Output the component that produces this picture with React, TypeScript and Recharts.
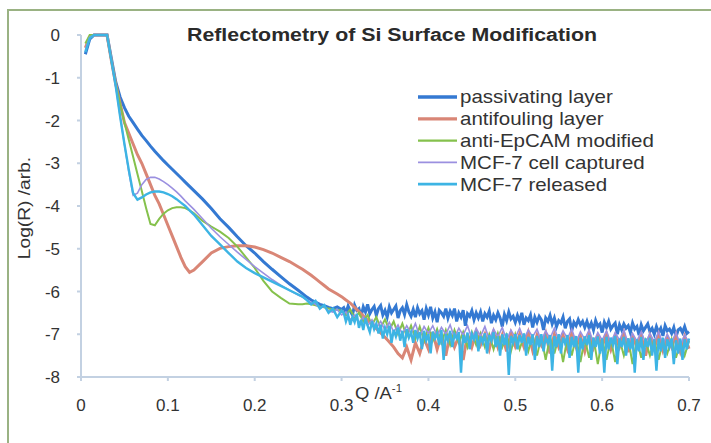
import { LineChart, Line, XAxis, YAxis, Legend } from "recharts";

// Q grids: fine steps through the critical edge and fringes, then the noisy tail
const Q_LOW = [
  0.005, 0.01, 0.015, 0.02, 0.025, 0.03, 0.035, 0.04, 0.045, 0.05,
  0.055, 0.06, 0.065, 0.07, 0.075, 0.08, 0.085, 0.09, 0.095, 0.1,
  0.105, 0.11, 0.115, 0.12, 0.125, 0.13, 0.14, 0.15, 0.16, 0.17,
  0.18, 0.19, 0.2, 0.21, 0.22, 0.23, 0.24, 0.25,
];
const Q_MID = [0.255, 0.26, 0.265, 0.27, 0.275, 0.28, 0.285, 0.29, 0.295, 0.3];
const Q_TAIL = [
  0.305, 0.31, 0.315, 0.32, 0.325, 0.33, 0.335, 0.34, 0.345, 0.35,
  0.355, 0.36, 0.365, 0.37, 0.375, 0.38, 0.385, 0.39, 0.395, 0.4,
  0.405, 0.41, 0.415, 0.42, 0.425, 0.43, 0.435, 0.44, 0.445, 0.45,
  0.455, 0.46, 0.465, 0.47, 0.475, 0.48, 0.485, 0.49, 0.495, 0.5,
  0.505, 0.51, 0.515, 0.52, 0.525, 0.53, 0.535, 0.54, 0.545, 0.55,
  0.555, 0.56, 0.565, 0.57, 0.575, 0.58, 0.585, 0.59, 0.595, 0.6,
  0.605, 0.61, 0.615, 0.62, 0.625, 0.63, 0.635, 0.64, 0.645, 0.65,
  0.655, 0.66, 0.665, 0.67, 0.675, 0.68, 0.685, 0.69, 0.695, 0.7,
];
// denser sampling for the two runs that dominate the noisy band
const Q_TAIL_FINE = [
  0.3025, 0.305, 0.3075, 0.31, 0.3125, 0.315, 0.3175, 0.32, 0.3225, 0.325, 0.3275, 0.33, 0.3325, 0.335, 0.3375, 0.34,
  0.3425, 0.345, 0.3475, 0.35, 0.3525, 0.355, 0.3575, 0.36, 0.3625, 0.365, 0.3675, 0.37, 0.3725, 0.375, 0.3775, 0.38,
  0.3825, 0.385, 0.3875, 0.39, 0.3925, 0.395, 0.3975, 0.4, 0.4025, 0.405, 0.4075, 0.41, 0.4125, 0.415, 0.4175, 0.42,
  0.4225, 0.425, 0.4275, 0.43, 0.4325, 0.435, 0.4375, 0.44, 0.4425, 0.445, 0.4475, 0.45, 0.4525, 0.455, 0.4575, 0.46,
  0.4625, 0.465, 0.4675, 0.47, 0.4725, 0.475, 0.4775, 0.48, 0.4825, 0.485, 0.4875, 0.49, 0.4925, 0.495, 0.4975, 0.5,
  0.5025, 0.505, 0.5075, 0.51, 0.5125, 0.515, 0.5175, 0.52, 0.5225, 0.525, 0.5275, 0.53, 0.5325, 0.535, 0.5375, 0.54,
  0.5425, 0.545, 0.5475, 0.55, 0.5525, 0.555, 0.5575, 0.56, 0.5625, 0.565, 0.5675, 0.57, 0.5725, 0.575, 0.5775, 0.58,
  0.5825, 0.585, 0.5875, 0.59, 0.5925, 0.595, 0.5975, 0.6, 0.6025, 0.605, 0.6075, 0.61, 0.6125, 0.615, 0.6175, 0.62,
  0.6225, 0.625, 0.6275, 0.63, 0.6325, 0.635, 0.6375, 0.64, 0.6425, 0.645, 0.6475, 0.65, 0.6525, 0.655, 0.6575, 0.66,
  0.6625, 0.665, 0.6675, 0.67, 0.6725, 0.675, 0.6775, 0.68, 0.6825, 0.685, 0.6875, 0.69, 0.6925, 0.695, 0.6975, 0.7,
];

// log(R) values
const PASSIVATING_LOW = [
  -0.45, -0.1, 0, 0, 0, 0, -0.55, -1.1, -1.45, -1.7,
  -1.9, -2.05, -2.2, -2.35, -2.47, -2.6, -2.72, -2.83, -2.94, -3.04,
  -3.14, -3.24, -3.34, -3.44, -3.54, -3.64, -3.84, -4.06, -4.3, -4.5,
  -4.72, -4.93, -5.1, -5.3, -5.48, -5.65, -5.82, -5.97,
];
const PASSIVATING_MID = [-6.05, -6.13, -6.2, -6.25, -6.3, -6.33, -6.37, -6.4, -6.36, -6.42];
const PASSIVATING_TAIL = [
  -6.38, -6.5, -6.34, -6.46, -6.55, -6.32, -6.44, -6.4, -6.58, -6.36, -6.48, -6.3, -6.52, -6.42, -6.35, -6.56,
  -6.4, -6.33, -6.55, -6.44, -6.6, -6.36, -6.5, -6.42, -6.34, -6.62, -6.45, -6.38, -6.54, -6.31, -6.48, -6.58,
  -6.42, -6.6, -6.38, -6.52, -6.45, -6.66, -6.4, -6.55, -6.36, -6.62, -6.48, -6.72, -6.44, -6.5, -6.58, -6.4,
  -6.62, -6.46, -6.56, -6.4, -6.7, -6.5, -6.6, -6.44, -6.8, -6.52, -6.58, -6.45, -6.66, -6.5, -6.62, -6.48,
  -6.7, -6.52, -6.6, -6.46, -6.74, -6.56, -6.66, -6.5, -6.62, -6.82, -6.54, -6.68, -6.48, -6.64, -6.58, -6.72,
  -6.56, -6.7, -6.5, -6.78, -6.62, -6.68, -6.55, -6.84, -6.6, -6.72, -6.58, -6.66, -6.9, -6.62, -6.7, -6.56,
  -6.76, -6.62, -6.82, -6.68, -6.74, -6.6, -6.86, -6.7, -6.64, -6.92, -6.72, -6.8, -6.66, -6.78, -6.7, -6.84,
  -6.7, -6.86, -6.74, -6.9, -6.68, -6.82, -6.76, -6.96, -6.72, -6.84, -6.7, -6.88, -6.8, -6.74, -7.0, -6.78,
  -6.9, -6.76, -6.86, -6.8, -6.96, -6.74, -6.88, -6.82, -7.02, -6.78, -6.92, -6.84, -6.76, -6.94, -6.86, -7.0,
  -6.82, -6.96, -6.86, -7.04, -6.8, -6.92, -6.88, -6.98, -6.84, -7.06, -6.9, -6.86, -6.96, -6.82, -6.98, -6.94,
];

const ANTIFOULING_LOW = [
  -0.3, -0.05, 0, 0, 0, 0, -0.6, -1.15, -1.6, -2.05,
  -2.3, -2.55, -2.8, -3.0, -3.25, -3.5, -3.75, -3.95, -4.2, -4.45,
  -4.7, -4.95, -5.2, -5.42, -5.55, -5.5, -5.3, -5.1, -4.99, -4.95,
  -4.93, -4.93, -4.96, -5.02, -5.1, -5.2, -5.3, -5.42,
];
const ANTIFOULING_MID = [-5.48, -5.55, -5.62, -5.7, -5.78, -5.86, -5.94, -6.0, -6.06, -6.12];
const ANTIFOULING_TAIL = [
  -6.2, -6.27, -6.37, -6.47, -6.57, -6.67, -6.77, -6.87, -6.97, -7.07,
  -7.18, -7.3, -7.45, -7.55, -7.3, -7.6, -7.2, -7.45, -7.1, -7.35,
  -6.95, -7.35, -7.0, -7.5, -6.98, -7.3, -7.05, -7.6, -7.0, -7.3,
  -6.95, -7.25, -7.0, -7.35, -6.95, -7.3, -7.02, -7.4, -6.98, -7.28,
  -7.0, -7.3, -6.96, -7.38, -7.02, -7.25, -6.98, -7.45, -7.0, -7.3,
  -7.02, -7.35, -6.98, -7.3, -7.04, -7.4, -7.0, -7.32, -7.05, -7.28,
  -7.0, -7.36, -7.04, -7.3, -6.98, -7.42, -7.05, -7.3, -7.02, -7.5,
  -7.04, -7.32, -7.0, -7.38, -7.06, -7.3, -7.02, -7.4, -7.05, -7.34,
];

const EPCAM_LOW = [
  -0.2, 0, 0, 0, 0, 0, -0.6, -1.15, -1.6, -2.05,
  -2.45, -2.85, -3.25, -3.65, -4.05, -4.42, -4.45, -4.3, -4.18, -4.1,
  -4.05, -4.03, -4.03, -4.05, -4.1, -4.17, -4.35, -4.48, -4.6, -4.75,
  -4.95, -5.2, -5.45, -5.75, -6.0, -6.15, -6.28, -6.3,
];
const EPCAM_MID = [-6.3, -6.28, -6.3, -6.32, -6.35, -6.37, -6.4, -6.42, -6.43, -6.45];
const EPCAM_TAIL = [
  -6.55, -6.42, -6.62, -6.5, -6.7, -6.55, -6.78, -6.6, -6.85, -6.65,
  -6.9, -6.7, -7.0, -6.75, -7.05, -6.8, -7.1, -6.82, -7.15, -6.85,
  -7.15, -6.88, -7.2, -6.9, -7.25, -6.9, -7.2, -6.95, -7.3, -6.95,
  -7.25, -6.98, -7.3, -7.0, -7.35, -6.98, -7.3, -7.02, -7.4, -7.0,
  -7.35, -7.04, -7.4, -7.02, -7.5, -7.05, -7.6, -7.05, -7.45, -7.06,
  -7.65, -7.08, -7.5, -7.05, -7.65, -7.1, -7.55, -7.08, -7.7, -7.1,
  -7.6, -7.1, -7.65, -7.12, -7.5, -7.1, -7.7, -7.12, -7.55, -7.15,
  -7.5, -7.12, -7.6, -7.15, -7.45, -7.12, -7.55, -7.18, -7.5, -7.15,
];

const CAPTURED_LOW = [
  -0.35, -0.05, 0, 0, 0, 0, -0.6, -1.2, -1.9, -2.55,
  -3.2, -3.75, -3.7, -3.5, -3.38, -3.33, -3.33, -3.37, -3.43, -3.5,
  -3.58, -3.67, -3.77, -3.88, -3.98, -4.08, -4.3, -4.52, -4.72, -4.9,
  -5.08, -5.25, -5.42, -5.57, -5.72, -5.85, -5.97, -6.08,
];
const CAPTURED_MID = [-6.13, -6.2, -6.26, -6.3, -6.38, -6.35, -6.45, -6.48, -6.42, -6.55];
const CAPTURED_TAIL = [
  -6.48, -6.66, -6.55, -6.74, -6.6, -6.8, -6.66, -6.86, -6.7, -6.9,
  -6.72, -6.95, -6.78, -7.0, -6.8, -6.98, -6.75, -7.05, -6.82, -6.98,
  -6.8, -7.04, -6.84, -7.0, -6.78, -7.08, -6.86, -7.02, -6.8, -7.1,
  -6.86, -7.05, -6.82, -7.12, -6.88, -7.06, -6.84, -7.14, -6.9, -7.08,
  -6.86, -7.12, -6.9, -7.06, -6.88, -7.16, -6.92, -7.1, -6.86, -7.14,
  -6.92, -7.1, -6.88, -7.18, -6.94, -7.12, -6.9, -7.2, -6.96, -7.14,
  -6.92, -7.2, -6.96, -7.14, -6.9, -7.22, -6.98, -7.16, -6.94, -7.2,
  -6.98, -7.18, -6.94, -7.24, -7.0, -7.2, -6.96, -7.26, -7.02, -7.2,
];

const RELEASED_LOW = [
  -0.4, -0.08, 0, 0, 0, 0, -0.6, -1.2, -1.9, -2.55,
  -3.15, -3.7, -3.85, -3.8, -3.73, -3.68, -3.66, -3.66, -3.68, -3.72,
  -3.77, -3.84, -3.92, -4.0, -4.1, -4.2, -4.45, -4.7, -4.9, -5.1,
  -5.3, -5.45, -5.57, -5.67, -5.77, -5.87, -5.97, -6.07,
];
const RELEASED_MID = [-6.12, -6.2, -6.3, -6.22, -6.4, -6.32, -6.5, -6.4, -6.6, -6.45];
const RELEASED_TAIL = [
  -6.5, -6.7, -6.55, -6.78, -6.6, -6.72, -6.52, -6.85, -6.66, -6.9, -6.62, -6.8, -6.95, -6.7, -6.88, -6.75,
  -6.98, -6.78, -7.1, -6.85, -7.0, -6.8, -7.2, -6.9, -7.05, -6.84, -7.15, -6.92, -7.3, -6.88, -7.08, -6.95,
  -7.2, -6.9, -7.1, -6.95, -7.35, -6.92, -7.15, -7.0, -7.45, -6.94, -7.1, -6.98, -7.25, -6.9, -7.6, -7.0,
  -7.15, -6.92, -7.3, -7.0, -7.1, -6.95, -7.9, -7.02, -7.2, -6.96, -7.35, -7.0, -7.12, -6.94, -7.4, -7.05,
  -7.2, -6.98, -7.45, -7.02, -7.15, -6.95, -7.3, -7.05, -7.5, -7.0, -7.25, -6.98, -7.95, -7.04, -7.2, -7.0,
  -7.35, -7.02, -7.2, -6.98, -7.5, -7.06, -7.25, -7.0, -7.6, -7.04, -7.3, -7.0, -7.4, -7.08, -7.2, -7.02,
  -7.85, -7.04, -7.3, -7.0, -7.45, -7.08, -7.22, -7.02, -7.55, -7.06, -7.3, -7.04, -7.9, -7.08, -7.35, -7.05,
  -7.25, -7.02, -7.6, -7.08, -7.3, -7.05, -7.45, -7.1, -7.9, -7.06, -7.35, -7.08, -7.25, -7.04, -7.7, -7.1,
  -7.3, -7.06, -7.5, -7.1, -7.35, -7.08, -7.9, -7.12, -7.4, -7.06, -7.6, -7.1, -7.3, -7.08, -7.5, -7.12,
  -7.85, -7.1, -7.4, -7.08, -7.55, -7.12, -7.3, -7.1, -7.7, -7.14, -7.45, -7.1, -7.6, -7.12, -7.35, -7.1,
];

const X_TICKS = [0, 0.1, 0.2, 0.3, 0.4, 0.5, 0.6, 0.7];
const Y_TICKS = [0, -1, -2, -3, -4, -5, -6, -7, -8];

const toPoints = (qs: number[], vs: number[]) => qs.map((q, i) => ({ q, v: vs[i] }));
const Q_STD = [...Q_LOW, ...Q_MID, ...Q_TAIL];
const Q_DENSE = [...Q_LOW, ...Q_MID, ...Q_TAIL_FINE];

const FONT = "'Liberation Sans', Arial, sans-serif";
const AXIS = "#c3d1e2";
const INK = "#333";

const lines = [
  {
    key: "passivating",
    name: "passivating layer",
    color: "#3479d2",
    width: 3,
    points: toPoints(Q_DENSE, [...PASSIVATING_LOW, ...PASSIVATING_MID, ...PASSIVATING_TAIL]),
  },
  {
    key: "antifouling",
    name: "antifouling layer",
    color: "#d98676",
    width: 3,
    points: toPoints(Q_STD, [...ANTIFOULING_LOW, ...ANTIFOULING_MID, ...ANTIFOULING_TAIL]),
  },
  {
    key: "epcam",
    name: "anti-EpCAM modified",
    color: "#85c14c",
    width: 2,
    points: toPoints(Q_STD, [...EPCAM_LOW, ...EPCAM_MID, ...EPCAM_TAIL]),
  },
  {
    key: "captured",
    name: "MCF-7 cell captured",
    color: "#9b90e0",
    width: 1.6,
    points: toPoints(Q_STD, [...CAPTURED_LOW, ...CAPTURED_MID, ...CAPTURED_TAIL]),
  },
  {
    key: "released",
    name: "MCF-7 released",
    color: "#3db4e4",
    width: 2.4,
    points: toPoints(Q_DENSE, [...RELEASED_LOW, ...RELEASED_MID, ...RELEASED_TAIL]),
  },
];

function LegendBox() {
  return (
    <svg width={270} height={115}>
      {lines.map((l, i) => {
        const y = 13 + i * 21.8;
        return (
          <g key={l.key}>
            <line x1={3} x2={42} y1={y} y2={y} stroke={l.color} strokeWidth={l.width + 0.3} />
            <text transform={`translate(45 ${y}) scale(1.14 1)`} dy="0.36em" fontSize={18} fill={INK} fontFamily={FONT}>
              {l.name}
            </text>
          </g>
        );
      })}
    </svg>
  );
}

export default function App() {
  return (
    <div style={{ position: "fixed", left: 0, top: 0, width: 711, height: 443, background: "#fff" }}>
      <div style={{ position: "absolute", left: 7, top: 9, right: 0, bottom: 0, borderLeft: "2px solid #9ab283", borderTop: "2px solid #9ab283" }} />
      <svg style={{ position: "absolute", left: 0, top: 0, zIndex: 2 }} width={711} height={50}>
        <text x={392} y={41} textAnchor="middle" textLength={410} lengthAdjust="spacingAndGlyphs" fontSize={18} fontWeight="bold" fill="#2a2a2a" fontFamily={FONT}>
          Reflectometry of Si Surface Modification
        </text>
      </svg>
      <LineChart width={711} height={443} margin={{ top: 35, right: 22, bottom: 36, left: 0 }}>
        <XAxis
          type="number"
          dataKey="q"
          domain={[0, 0.7]}
          ticks={X_TICKS}
          tickFormatter={(v: number) => (v === 0 ? "0" : v.toFixed(1))}
          allowDuplicatedCategory={false}
          height={30}
          tickSize={4}
          tickMargin={18}
          stroke={AXIS}
          strokeWidth={2}
          tick={{ fill: INK, fontSize: 17, fontFamily: FONT }}
          label={() => (
            <text transform="translate(355 399) scale(1.15 1)" fontSize={16} fill={INK} fontFamily={FONT}>
              Q /A
              <tspan fontSize={10} dy={-7}>-1</tspan>
            </text>
          )}
        />
        <YAxis
          type="number"
          domain={[-8, 0]}
          ticks={Y_TICKS}
          width={81}
          tickSize={4}
          tickMargin={17}
          stroke={AXIS}
          strokeWidth={2}
          tick={{ fill: INK, fontSize: 17, fontFamily: FONT }}
          label={(props: any) => {
            const vb = props.viewBox || { y: 35, height: 342 };
            const cy = vb.y + vb.height / 2 + 2;
            return (
              <text
                transform={`translate(25 ${cy}) rotate(-90) scale(1.2 1)`}
                textAnchor="middle"
                dominantBaseline="central"
                fontSize={16}
                fill={INK}
                fontFamily={FONT}
              >
                Log(R) /arb.
              </text>
            );
          }}
        />
        <Legend
          layout="horizontal"
          verticalAlign="middle"
          align="center"
          content={() => <LegendBox />}
          wrapperStyle={{ left: 415, top: 84, width: 270, height: 115 }}
        />
        {lines.map((l) => (
          <Line
            key={l.key}
            data={l.points}
            type="linear"
            dataKey="v"
            name={l.name}
            stroke={l.color}
            strokeWidth={l.width}
            dot={false}
            activeDot={false}
            isAnimationActive={false}
          />
        ))}
      </LineChart>
    </div>
  );
}
